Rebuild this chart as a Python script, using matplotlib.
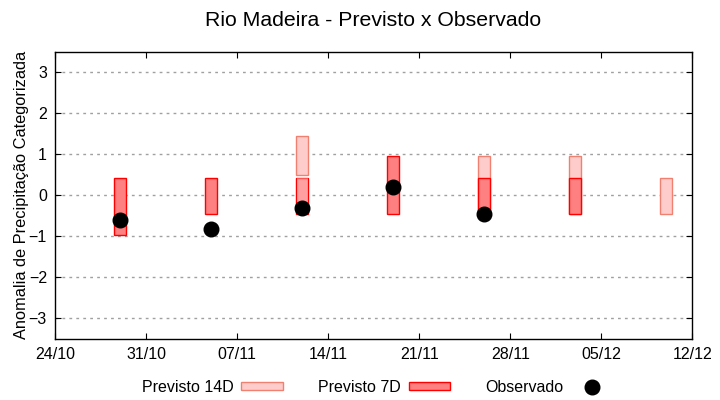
import datetime as dt
import matplotlib
matplotlib.use("Agg")
import matplotlib.pyplot as plt
import matplotlib.dates as mdates
from matplotlib.patches import Patch
from matplotlib.lines import Line2D

plt.rcParams["font.family"] = ["Liberation Sans", "DejaVu Sans"]

# previsto 7 dias
dates_7d = ["29/10", "05/11", "12/11", "19/11", "26/11", "03/12"]
low_7d = [-0.96, -0.45, -0.45, -0.45, -0.45, -0.45]
high_7d = [0.43, 0.43, 0.43, 0.95, 0.43, 0.43]

# previsto 14 dias
dates_14d = ["12/11", "26/11", "03/12", "10/12"]
low_14d = [0.50, -0.45, -0.45, -0.45]
high_14d = [1.44, 0.95, 0.95, 0.43]
# parte do 14D sobre o 7D
dates_14d_over = ["12/11"]
low_14d_over = [-0.45]
high_14d_over = [0.43]

# observado
dates_obs = ["29/10", "05/11", "12/11", "19/11", "26/11"]
obs = [-0.59, -0.81, -0.30, 0.21, -0.45]

xticks = ["24/10", "31/10", "07/11", "14/11", "21/11", "28/11", "05/12", "12/12"]


def to_date(s):
    d, m = s.split("/")
    return dt.datetime(2023, int(m), int(d))


c14_face = "#ffcccc"
c14_edge = "#f08070"
c7_face = "#ff8080"
c7_edge = "#ff0000"

fig = plt.figure(figsize=(7.2, 4), dpi=100)
ax = fig.add_axes([0.0768, 0.1525, 0.8847, 0.7185])

w = 0.9
x14 = [mdates.date2num(to_date(s)) for s in dates_14d]
ax.bar(x14, [h - l for l, h in zip(low_14d, high_14d)], bottom=low_14d, width=w,
       color=c14_face, edgecolor=c14_edge, linewidth=1, zorder=2)

x7 = [mdates.date2num(to_date(s)) for s in dates_7d]
ax.bar(x7, [h - l for l, h in zip(low_7d, high_7d)], bottom=low_7d, width=w,
       color=c7_face, edgecolor=c7_edge, linewidth=1, zorder=3)

xo = [mdates.date2num(to_date(s)) for s in dates_14d_over]
ax.bar(xo, [h - l for l, h in zip(low_14d_over, high_14d_over)], bottom=low_14d_over,
       width=w - 0.08, color=c14_face, alpha=0.41, edgecolor="none", zorder=4)

xob = [mdates.date2num(to_date(s)) for s in dates_obs]
ax.plot(xob, obs, "o", color="black", markersize=10.5, zorder=5)

ax.set_xlim(mdates.date2num(to_date("24/10")), mdates.date2num(to_date("12/12")))
ax.set_ylim(-3.5, 3.5)
ax.set_xticks([mdates.date2num(to_date(s)) for s in xticks])
ax.set_xticklabels(xticks)
ax.set_yticks([-3, -2, -1, 0, 1, 2, 3])
ax.tick_params(direction="in", length=4, labelsize=11.5, top=True, right=True, pad=6)
ax.yaxis.grid(True, color="#a0a0a0", linestyle=(0, (2, 3)), linewidth=1)
ax.set_axisbelow(True)
for sp in ax.spines.values():
    sp.set_linewidth(1)

ax.set_ylabel("Anomalia de Precipitação Categorizada", fontsize=11.8, labelpad=0)
fig.suptitle("Rio Madeira - Previsto x Observado", fontsize=15.3, x=0.518, y=0.972)

handles = [
    Patch(facecolor=c14_face, edgecolor=c14_edge, linewidth=1),
    Patch(facecolor=c7_face, edgecolor=c7_edge, linewidth=1),
    Line2D([], [], marker="o", linestyle="none", color="black", markersize=10.5),
]
fig.legend(handles, ["Previsto 14D", "Previsto 7D", "Observado"], loc="center",
           bbox_to_anchor=(0.524, 0.032), ncol=3, frameon=False, markerfirst=False,
           fontsize=11.5, handlelength=2.6, handleheight=0.4, handletextpad=0.5,
           columnspacing=2.2)

fig.savefig("out.png", dpi=100)
